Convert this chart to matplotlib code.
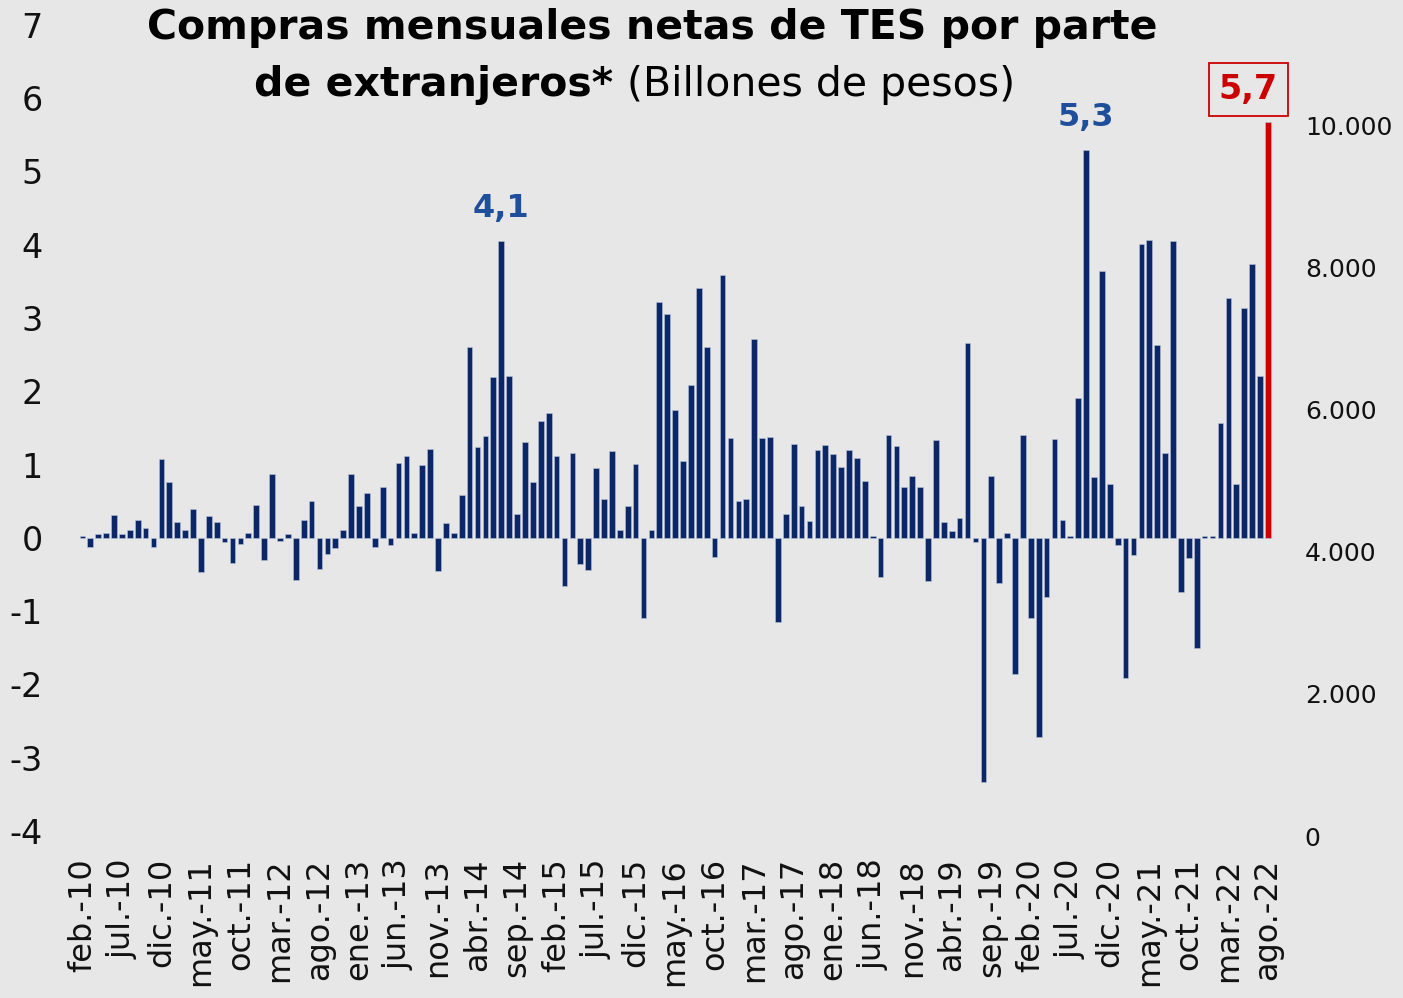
import matplotlib
matplotlib.use("Agg")
import matplotlib.pyplot as plt
import numpy as np

# compras netas mensuales (billones de pesos), feb-10 a ago-22
v2010 = [0.02, -0.13, 0.05, 0.07, 0.31, 0.05, 0.10, 0.24, 0.13, -0.13, 1.08]
v2011 = [0.76, 0.21, 0.10, 0.39, -0.47, 0.30, 0.21, -0.06, -0.35, -0.09, 0.07, 0.45]
v2012 = [-0.30, 0.87, -0.05, 0.05, -0.57, 0.25, 0.50, -0.42, -0.22, -0.14, 0.11, 0.87]
v2013 = [0.43, 0.61, -0.13, 0.70, -0.10, 1.02, 1.11, 0.07, 1.00, 1.21, -0.45, 0.20]
v2014 = [0.07, 0.59, 2.60, 1.24, 1.39, 2.20, 4.05, 2.21, 0.32, 1.31, 0.76, 1.60]
v2015 = [1.71, 1.11, -0.66, 1.16, -0.36, -0.44, 0.95, 0.53, 1.19, 0.11, 0.43, 1.01]
v2016 = [-1.09, 0.10, 3.22, 3.05, 1.75, 1.05, 2.08, 3.41, 2.60, -0.26, 3.59, 1.36]
v2017 = [0.50, 0.53, 2.71, 1.36, 1.38, -1.15, 0.33, 1.28, 0.43, 0.23, 1.20, 1.27]
v2018 = [1.15, 0.96, 1.20, 1.09, 0.77, 0.02, -0.54, 1.40, 1.26, 0.70, 0.84, 0.70]
v2019 = [-0.59, 1.33, 0.21, 0.09, 0.27, 2.66, -0.06, -3.33, 0.84, -0.61, 0.07, -1.86]
v2020 = [1.40, -1.10, -2.72, -0.81, 1.35, 0.24, 0.03, 1.91, 5.30, 0.83, 3.64, 0.73]
v2021 = [-0.10, -1.91, -0.24, 4.01, 4.07, 2.63, 1.16, 4.05, -0.74, -0.27, -1.51, 0.03]
v2022 = [0.02, 1.57, 3.27, 0.74, 3.13, 3.74, 2.21, 5.67]

valores = (v2010 + v2011 + v2012 + v2013 + v2014 + v2015 + v2016 + v2017
           + v2018 + v2019 + v2020 + v2021 + v2022)

meses = ['ene.', 'feb.', 'mar.', 'abr.', 'may.', 'jun.', 'jul.', 'ago.',
         'sep.', 'oct.', 'nov.', 'dic.']
fechas = []
for anio in range(2010, 2023):
    for m in meses:
        fechas.append(m + '-' + str(anio)[2:])
fechas = fechas[1:1 + len(valores)]

# anotaciones destacadas
destacados = {'jul.-14': '4,1', 'sep.-20': '5,3'}
ultimo_txt = '5,7'

azul = '#0b2767'
azul_txt = '#1f4e9b'
rojo = '#cc0000'

fig = plt.figure(figsize=(14.03, 9.98), dpi=100, facecolor='#e7e7e7')
ax = fig.add_axes([0.0542, 0.1623, 0.854, 0.8127])
ax.set_facecolor('none')

x = np.arange(len(valores))
colores = [azul] * (len(valores) - 1) + [rojo]
ax.bar(x, valores, width=0.72, color=colores, edgecolor='#b9c3d8', linewidth=0.4)

ax.set_xlim(-0.8, len(valores) - 0.2)
ax.set_ylim(-4.07, 7)
ax.set_yticks(range(-4, 8))
ax.set_yticklabels([str(t) for t in range(-4, 8)], fontsize=24, color='#111111')
ax.set_xticks(x[::5])
ax.set_xticklabels(fechas[::5], rotation=90, fontsize=23, color='#111111')
ax.tick_params(axis='y', length=0, pad=24)
ax.tick_params(axis='x', length=0, pad=16)
for s in ax.spines.values():
    s.set_visible(False)

ax2 = ax.twinx()
ax2.set_ylim(0, 11420)
ax2.set_yticks(range(0, 10001, 2000))
ax2.set_yticklabels(['0', '2.000', '4.000', '6.000', '8.000', '10.000'],
                    fontsize=18, color='#111111')
ax2.tick_params(axis='y', length=0, pad=22)
for s in ax2.spines.values():
    s.set_visible(False)

for f, txt in destacados.items():
    i = fechas.index(f)
    ax.annotate(txt, (i, valores[i]), xytext=(0, 12), textcoords='offset points',
                ha='center', va='bottom', fontsize=23, fontweight='bold',
                color=azul_txt)

ax.annotate(ultimo_txt, (x[-1], valores[-1]), xytext=(-14, 12),
            textcoords='offset points', ha='center', va='bottom', fontsize=24,
            fontweight='bold', color=rojo,
            bbox=dict(boxstyle='square,pad=0.3', facecolor='none',
                      edgecolor=rojo, linewidth=1.3))

fig.text(0.465, 0.972, 'Compras mensuales netas de TES por parte',
         ha='center', va='center', fontsize=29.5, fontweight='bold')
fig.text(0.437, 0.915, 'de extranjeros*', ha='right', va='center',
         fontsize=29.5, fontweight='bold')
fig.text(0.447, 0.915, '(Billones de pesos)', ha='left', va='center',
         fontsize=29.5)

fig.savefig('out.png', dpi=100, facecolor=fig.get_facecolor())
